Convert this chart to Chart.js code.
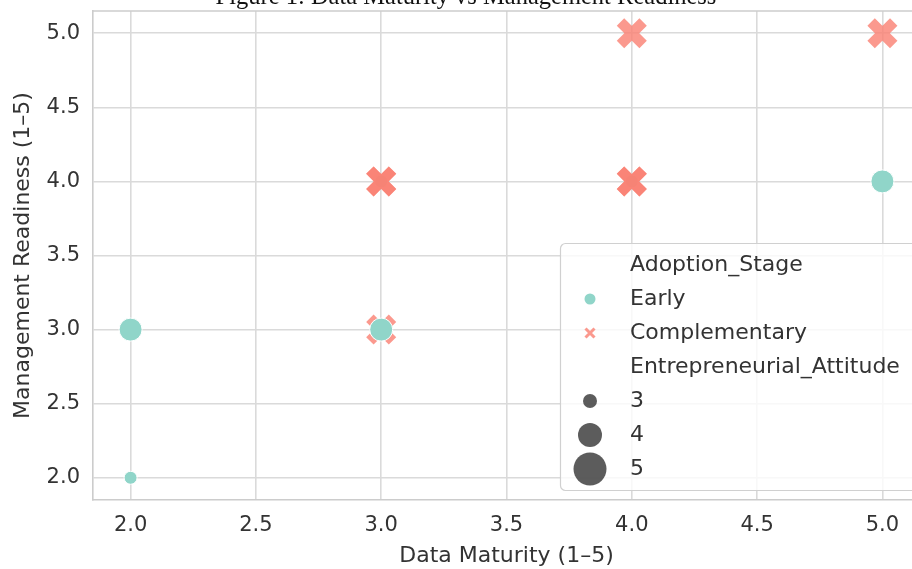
<!DOCTYPE html>
<html>
<head>
<meta charset="utf-8">
<script src="https://cdn.jsdelivr.net/npm/chart.js@4"></script>
<style>
  html, body { margin: 0; padding: 0; background: #fff; overflow: hidden; }
  #wrap { position: relative; width: 925px; height: 569px; }
  #title {
    position: absolute; top: -15px; left: 0; width: 932px;
    text-align: center; white-space: nowrap;
    font-family: "Liberation Serif", "DejaVu Serif", serif;
    font-size: 24.5px; line-height: 22px; color: #111;
  }
</style>
</head>
<body>
<div id="wrap">
  <canvas id="chart" width="925" height="569"></canvas>
  <div id="title">Figure 1: Data Maturity vs Management Readiness</div>
</div>
<script>
// rows in drawing order (later rows sit on top)
const maturity  = [2, 3, 3, 4, 4, 4, 3, 3, 5, 4, 2, 5, 3];
const readiness = [3, 4, 4, 4, 4, 5, 3, 3, 5, 4, 2, 4, 4];
const stage = ['Early', 'Early', 'Complementary', 'Early', 'Complementary', 'Complementary',
  'Complementary', 'Early', 'Complementary', 'Complementary', 'Early', 'Early', 'Complementary'];
const attitude = [4, 3, 5, 3, 5, 5, 5, 4, 5, 5, 3, 4, 5];

const stageLabels = ['Early', 'Complementary'];
const attitudeLevels = [3, 4, 5];
const axisTicks = [2.0, 2.5, 3.0, 3.5, 4.0, 4.5, 5.0];

const teal = '#90d5c9';
const salmon = 'rgba(250, 128, 114, 0.8)';
const textColor = '#333333';
const font = 'DejaVu Sans';

function circleRadius(a) {
  return { 3: 6.5, 4: 11.5, 5: 16 }[a];
}

const points = maturity.map((m, i) => ({ x: m, y: readiness[i] }));
const isEarly = i => stage[i] === 'Early';

// keep edge tick labels from pushing the plot area inwards
function noEdgePadding(s) {
  s.paddingLeft = s.paddingRight = s.paddingTop = s.paddingBottom = 0;
}

const seabornLegend = {
  id: 'seabornLegend',
  beforeDatasetsDraw(chart) {
    // top spine
    const { ctx, chartArea } = chart;
    ctx.save();
    ctx.strokeStyle = '#cccccc';
    ctx.lineWidth = 1.6;
    ctx.beginPath();
    ctx.moveTo(chartArea.left, chartArea.top);
    ctx.lineTo(chartArea.right, chartArea.top);
    ctx.stroke();
    ctx.restore();
  },
  afterDatasetsDraw(chart) {
    const ctx = chart.ctx;
    const x0 = 560, y0 = 243, w = 380, h = 247;
    ctx.save();
    ctx.fillStyle = 'rgba(255,255,255,0.8)';
    ctx.strokeStyle = '#d0d0d0';
    ctx.lineWidth = 1.2;
    ctx.beginPath();
    ctx.roundRect(x0 + 0.5, y0 + 0.5, w, h, 5);
    ctx.fill();
    ctx.stroke();

    ctx.font = '22px "' + font + '"';
    ctx.fillStyle = textColor;
    ctx.textBaseline = 'middle';
    ctx.textAlign = 'left';
    const tx = 630, mx = 590;
    let y = 265;
    const step = 34;

    ctx.fillText('Adoption_Stage', tx, y);
    y += step;
    stageLabels.forEach(lbl => {
      if (lbl === 'Early') {
        ctx.fillStyle = teal;
        ctx.beginPath();
        ctx.arc(mx, y, 5.5, 0, Math.PI * 2);
        ctx.fill();
      } else {
        ctx.strokeStyle = salmon;
        ctx.lineWidth = 3;
        ctx.beginPath();
        ctx.moveTo(mx - 4.5, y - 4.5); ctx.lineTo(mx + 4.5, y + 4.5);
        ctx.moveTo(mx + 4.5, y - 4.5); ctx.lineTo(mx - 4.5, y + 4.5);
        ctx.stroke();
      }
      ctx.fillStyle = textColor;
      ctx.fillText(lbl, tx, y);
      y += step;
    });

    ctx.fillText('Entrepreneurial_Attitude', tx, y);
    y += step;
    attitudeLevels.forEach(a => {
      ctx.fillStyle = 'rgba(51,51,51,0.8)';
      ctx.beginPath();
      ctx.arc(mx, y, circleRadius(a) + 0.5, 0, Math.PI * 2);
      ctx.fill();
      ctx.fillStyle = textColor;
      ctx.fillText(String(a), tx, y);
      y += step;
    });
    ctx.restore();
  }
};

new Chart(document.getElementById('chart'), {
  type: 'scatter',
  data: {
    datasets: [{
      data: points,
      pointStyle: c => isEarly(c.dataIndex) ? 'circle' : 'crossRot',
      pointRadius: c => isEarly(c.dataIndex) ? circleRadius(attitude[c.dataIndex]) : 16,
      pointBackgroundColor: c => isEarly(c.dataIndex) ? teal : salmon,
      pointBorderColor: c => isEarly(c.dataIndex) ? '#ffffff' : salmon,
      pointBorderWidth: c => isEarly(c.dataIndex) ? 1 : 10.5
    }]
  },
  options: {
    responsive: false,
    animation: false,
    devicePixelRatio: 1,
    layout: { autoPadding: false, padding: { top: 11, right: 5, left: 0, bottom: 0 } },
    plugins: { legend: { display: false }, tooltip: { enabled: false } },
    scales: {
      x: {
        type: 'linear', min: 1.85, max: 5.15,
        afterFit: s => { s.height = 69; noEdgePadding(s); },
        afterBuildTicks: s => { s.ticks = axisTicks.map(v => ({ value: v })); },
        grid: { color: '#dadada', lineWidth: 1.6, drawTicks: false },
        border: { color: '#cccccc', width: 1.6 },
        ticks: {
          padding: 13, color: textColor,
          font: { family: font, size: 21 },
          callback: v => v.toFixed(1)
        },
        title: {
          display: true, text: 'Data Maturity (1–5)', color: textColor,
          font: { family: font, size: 22 }, padding: { top: 0, bottom: 0 }
        }
      },
      y: {
        type: 'linear', min: 1.85, max: 5.15,
        afterFit: s => { s.width = 93; noEdgePadding(s); },
        afterBuildTicks: s => { s.ticks = axisTicks.map(v => ({ value: v })); },
        grid: { color: '#dadada', lineWidth: 1.6, drawTicks: false },
        border: { color: '#cccccc', width: 1.6 },
        ticks: {
          padding: 13, color: textColor,
          font: { family: font, size: 21 },
          callback: v => v.toFixed(1)
        },
        title: {
          display: true, text: 'Management Readiness (1–5)', color: textColor,
          font: { family: font, size: 22 }, padding: { top: 10, bottom: 0 }
        }
      }
    }
  },
  plugins: [seabornLegend]
});
</script>
</body>
</html>
